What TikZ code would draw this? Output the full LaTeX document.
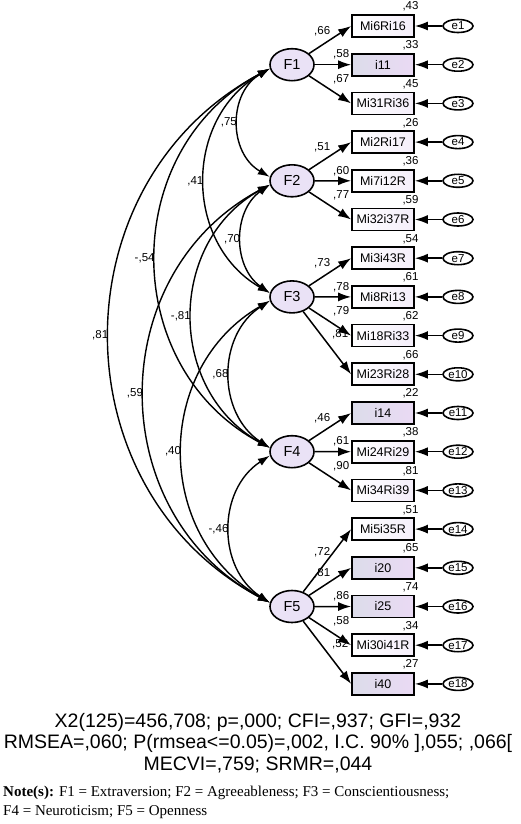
\documentclass[tikz,border=0pt]{standalone}
\usepackage{fontspec}
\setmainfont{Liberation Serif}
\setsansfont{Liberation Sans}
\usetikzlibrary{arrows.meta,shapes.geometric}
\definecolor{latfill}{RGB}{234,226,246}
\definecolor{boxLw}{RGB}{255,255,255}
\definecolor{boxRw}{RGB}{244,238,250}
\definecolor{boxLg}{RGB}{220,220,234}
\definecolor{boxRg}{RGB}{234,218,244}
\begin{document}
\begin{tikzpicture}[x=1pt, y=-1pt,
    factor/.style={ellipse, draw, line width=1.6pt, fill=latfill, minimum width=44pt, minimum height=32pt, inner sep=0pt, font=\sffamily\fontsize{14.5}{14.5}\selectfont},
    item/.style={rectangle, draw, line width=1.7pt, minimum width=62pt, minimum height=22pt, inner sep=0pt, left color=boxL#1, right color=boxR#1, font=\sffamily\fontsize{12.5}{12.5}\selectfont},
    err/.style={ellipse, draw, line width=1.6pt, fill=white, minimum width=30pt, minimum height=13pt, inner sep=0pt, font=\sffamily\fontsize{11.5}{11.5}\selectfont},
    load/.style={-{Latex[length=13pt,width=9pt]}, line width=1.5pt},
    cov/.style={{Latex[length=12pt,width=8pt]}-{Latex[length=12pt,width=8pt]}, line width=1.4pt},
    lbl/.style={font=\sffamily\fontsize{11.5}{11.5}\selectfont, inner sep=1pt},
    smc/.style={lbl, xshift=27.5pt, yshift=1.5pt}
  ]
    \useasboundingbox (0,0) rectangle (520,824);
    % observed items with their error terms
    \foreach \i/\t/\r/\c in {1/Mi6Ri16/43/w, 2/i11/33/g, 3/Mi31Ri36/45/w, 4/Mi2Ri17/26/w,
        5/Mi7i12R/36/w, 6/Mi32i37R/59/w, 7/Mi3i43R/54/w, 8/Mi8Ri13/61/w, 9/Mi18Ri33/62/w,
        10/Mi23Ri28/66/w, 11/i14/22/g, 12/Mi24Ri29/38/w, 13/Mi34Ri39/81/w, 14/Mi5i35R/51/w,
        15/i20/65/g, 16/i25/74/g, 17/Mi30i41R/34/w, 18/i40/27/g} {
      \node[item=\c, label={[smc]above:{,\r}}] (v\i) at (383,{26+38.7*(\i-1)}) {\t};
      \node[err] (e\i) at (458,{26+38.7*(\i-1)}) {e\i};
      \draw[load] (e\i) -- (v\i);
    }
    % latent factors
    \node[factor] (F1) at (292,64.7) {F1};
    \node[factor] (F2) at (292,180.8) {F2};
    \node[factor] (F3) at (292,296.9) {F3};
    \node[factor] (F4) at (292,451.7) {F4};
    \node[factor] (F5) at (292,606.5) {F5};
    % loadings
    \foreach \f/\v/\w/\dx/\dy in {1/1/66/-29/5, 1/2/58/-10/-10, 1/3/67/-10/-24,
        2/4/51/-29/5, 2/5/60/-10/-10, 2/6/77/-10/-24,
        3/7/73/-29/5, 3/8/78/-10/-10, 3/9/79/-10/-24, 3/10/81/-11/-40,
        4/11/46/-29/5, 4/12/61/-10/-10, 4/13/90/-10/-24,
        5/14/72/-29/23, 5/15/81/-29/5, 5/16/86/-10/-10, 5/17/58/-10/-24, 5/18/52/-11/-40} {
      \draw[load] (F\f) -- (v\v.west) node[lbl, shift={(\dx,\dy)}] {,\w};
    }
    % factor covariances
    \draw[cov] (F1.190) to[bend right=60, looseness=1.14] node[lbl, left] {,75} (F2.170);
    \draw[cov] (F2.190) to[bend right=55, looseness=1.08] node[lbl, left] {,70} (F3.170);
    \draw[cov] (F3.190) to[bend right=57, looseness=1.10] node[lbl, left] {,68} (F4.170);
    \draw[cov] (F4.190) to[bend right=57, looseness=1.10] node[lbl, left] {-,46} (F5.170);
    \draw[cov] (F1.190) to[bend right=60, looseness=1.14] node[lbl, left] {,41} (F3.170);
    \draw[cov] (F2.190) to[bend right=61, looseness=1.15] node[lbl, left] {-,81} (F4.170);
    \draw[cov] (F3.190) to[bend right=60, looseness=1.14] node[lbl, left] {,40} (F5.170);
    \draw[cov] (F1.190) to[bend right=62, looseness=1.16] node[lbl, left] {-,54} (F4.170);
    \draw[cov] (F2.190) to[bend right=62, looseness=1.16] node[lbl, left] {,59} (F5.170);
    \draw[cov] (F1.190) to[bend right=62, looseness=1.16] node[lbl, left] {,81} (F5.170);
    % fit indices and note
    \node[align=center, font=\sffamily\fontsize{19.5}{21.5}\selectfont] (fit) at (258,743)
      {X2(125)=456,708; p=,000; CFI=,937; GFI=,932\\
       RMSEA=,060; P(rmsea<=0.05)=,002, I.C. 90\% ],055; ,066[\\
       MECVI=,759; SRMR=,044};
    \node[anchor=north west, align=left, inner sep=0pt, font=\fontsize{15}{19}\selectfont] (note) at (3,786)
      {\textbf{Note(s):} F1 = Extraversion; F2 = Agreeableness; F3 = Conscientiousness;\\
       F4 = Neuroticism; F5 = Openness};
  \end{tikzpicture}
\end{document}
